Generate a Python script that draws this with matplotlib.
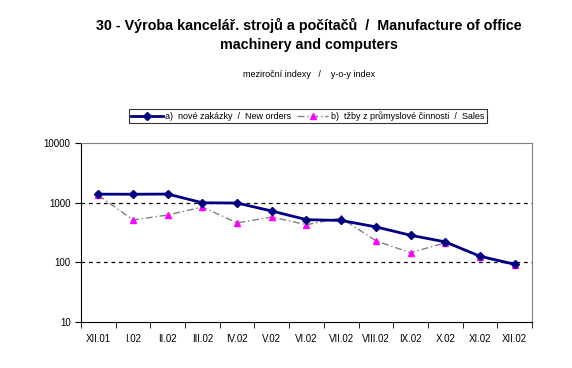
import matplotlib.pyplot as plt
from matplotlib.ticker import FixedLocator, NullLocator

plt.rcParams['font.family'] = ['Liberation Sans', 'DejaVu Sans']

mesice = ['XII.01', 'I.02', 'II.02', 'III.02', 'IV.02', 'V.02', 'VI.02',
          'VII.02', 'VIII.02', 'IX.02', 'X.02', 'XI.02', 'XII.02']
zakazky = [1395, 1390, 1400, 1000, 990, 727, 521, 505, 394, 285, 221, 127, 93]
trzby = [1343, 515, 624, 848, 459, 578, 428, 556, 230, 145, 213, 124, 89]

fig = plt.figure(figsize=(5.72, 3.68), dpi=100)
ax = fig.add_axes([0.1416, 0.125, 0.7884, 0.486])

x = range(len(mesice))
ax.plot(x, zakazky, color='#000080', lw=2.0, marker='D', ms=4,
        label='a)  nové zakázky  /  New orders', zorder=4)
ax.plot(x, trzby, color='#808080', lw=1.0, ls=(0, (5, 2, 1, 2)), marker='^',
        ms=5, mfc='#ff00ff', mec='#ff00ff',
        label='b)  tžby z průmyslové činnosti  /  Sales', zorder=3)

ax.set_yscale('log')
ax.set_ylim(10, 10000)
ax.set_xlim(-0.5, len(mesice) - 0.5)
ax.yaxis.set_major_locator(FixedLocator([10, 100, 1000, 10000]))
ax.yaxis.set_minor_locator(NullLocator())
ax.set_yticklabels(['10', '100', '1000', '10000'], fontsize=7)

ax.set_xticks(list(x))
ax.set_xticklabels(mesice, fontsize=7)
ax.tick_params(axis='x', which='major', length=0, pad=9)
ax.set_xticks([i - 0.5 for i in range(len(mesice) + 1)], minor=True)
ax.tick_params(axis='x', which='minor', length=4, direction='out')
ax.tick_params(axis='y', length=4, direction='out')

for v in [100, 1000]:
    ax.axhline(v, color='black', lw=0.9, ls=(0, (3, 3)), zorder=1)

ax.spines['top'].set_color('#808080')
ax.spines['right'].set_color('#808080')

fig.text(0.54, 0.905, '30 - Výroba kancelář. strojů a počítačů  /  Manufacture of office\nmachinery and computers',
         ha='center', va='center', fontsize=10.3, fontweight='bold', linespacing=1.5)
fig.text(0.54, 0.797, 'meziroční indexy   /    y-o-y index', ha='center', va='center', fontsize=6.5)

leg = ax.legend(loc='center', bbox_to_anchor=(0.538, 0.685), bbox_transform=fig.transFigure,
                ncol=2, fontsize=6.5, frameon=True, fancybox=False, edgecolor='black',
                handlelength=3.5, handletextpad=0.3, columnspacing=0.6, borderpad=0.25)
leg.get_frame().set_linewidth(0.8)

plt.savefig('out.png', dpi=100)
